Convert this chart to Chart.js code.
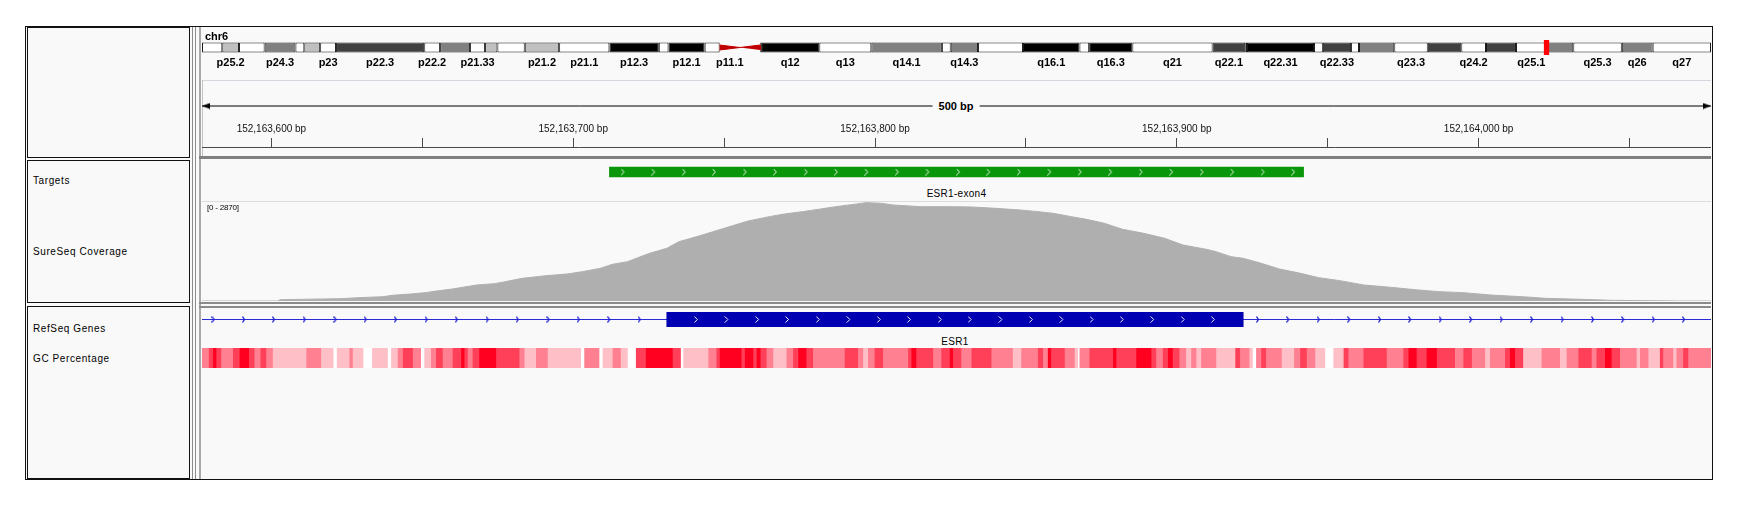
<!DOCTYPE html>
<html>
<head>
<meta charset="utf-8">
<title>chr6:152,163,577-152,164,077</title>
<script src="https://cdn.jsdelivr.net/npm/chart.js@4.4.1/dist/chart.umd.min.js"></script>
<style>
  html, body { margin: 0; padding: 0; background: #fff; }
  body { position: relative; width: 1744px; height: 507px; overflow: hidden;
         font-family: "Liberation Sans", Arial, sans-serif; color: #000; }
  .abs { position: absolute; }
  .frame { left: 25px; top: 26px; width: 1688px; height: 454px; box-sizing: border-box;
           border: 1px solid #111; background: #f9f9f9; }
  .namebox { left: 27px; width: 163px; box-sizing: border-box; border: 1px solid #111; background: #f9f9f9; }
  .trackname { left: 33px; font-size: 10px; line-height: 12px; letter-spacing: 0.6px; white-space: nowrap; }
  .feat { font-size: 10px; line-height: 12px; letter-spacing: 0.3px; transform: translateX(-50%); white-space: nowrap; }
  canvas { position: absolute; left: 202px; }
</style>
</head>
<body>

<div class="abs frame"></div>
<div class="abs namebox" style="top:27px;height:131px"></div>
<div class="abs namebox" style="top:160px;height:143px"></div>
<div class="abs namebox" style="top:306px;height:173px"></div>

<!-- split pane divider -->
<div class="abs" style="left:192px;top:27px;width:1px;height:452px;background:#8c8c8c"></div>
<div class="abs" style="left:195px;top:27px;width:1px;height:452px;background:#8c8c8c"></div>
<div class="abs" style="left:199px;top:27px;width:2px;height:452px;background:#a9a9a9"></div>

<!-- data panel separators -->
<div class="abs" style="left:202px;top:80px;width:1509px;height:1px;background:#d6d6de"></div>
<div class="abs" style="left:202px;top:80px;width:1px;height:77px;background:#c4c4c4"></div>
<div class="abs" style="left:199px;top:156px;width:1512px;height:3px;background:#808080"></div>
<div class="abs" style="left:202px;top:201px;width:1509px;height:1px;background:#dcdcdc"></div>
<div class="abs" style="left:199px;top:302px;width:1512px;height:2px;background:#8a8a8a"></div>
<div class="abs" style="left:199px;top:306px;width:1512px;height:2px;background:#8a8a8a"></div>

<canvas id="ideo" width="1509" height="35" style="top:35px"></canvas>
<canvas id="span" width="1509" height="20" style="top:96px"></canvas>
<canvas id="ruler" width="1509" height="60" style="top:120px"></canvas>
<canvas id="targets" width="1509" height="20" style="top:162px"></canvas>
<canvas id="coverage" width="1509" height="100" style="top:201px"></canvas>
<canvas id="genes" width="1509" height="15" style="top:312px"></canvas>
<canvas id="gc" width="1509" height="20" style="top:348px"></canvas>

<div class="abs" id="chrLabel" style="left:205px;top:30px;font-weight:bold;font-size:11px;line-height:12px"></div>
<div class="abs" id="spanLabel" style="left:956px;top:100px;font-weight:bold;font-size:11px;line-height:12px;
     transform:translateX(-50%);background:#f9f9f9;padding:0 6px;white-space:nowrap"></div>

<div class="abs trackname" style="top:175px">Targets</div>
<div class="abs trackname" style="top:246px">SureSeq Coverage</div>
<div class="abs trackname" style="top:323px">RefSeq Genes</div>
<div class="abs trackname" style="top:353px">GC Percentage</div>

<div class="abs" id="covRange" style="left:207px;top:203px;font-size:8px;line-height:10px;letter-spacing:-0.2px"></div>
<div class="abs feat" id="targetLabel" style="top:188px"></div>
<div class="abs feat" id="geneLabel" style="top:336px"></div>

<script>
/* =========================
   DATA
========================= */

const chrName = "chr6";
const chrLenMb = 171.115;
const viewStart = 152163577;
const viewEnd = 152164077;

// cytobands (Mb)
const bandNames = ["p25.3","p25.2","p25.1","p24.3","p24.2","p24.1","p23","p22.3","p22.2","p22.1",
  "p21.33","p21.32","p21.31","p21.2","p21.1","p12.3","p12.2","p12.1","p11.2","p11.1",
  "q11.1","q11.2","q12","q13","q14.1","q14.2","q14.3","q15","q16.1","q16.2",
  "q16.3","q21","q22.1","q22.2","q22.31","q22.32","q22.33","q23.1","q23.2","q23.3",
  "q24.1","q24.2","q24.3","q25.1","q25.2","q25.3","q26","q27"];
const bandStart = [0, 2.3, 4.2, 7.1, 10.6, 11.6, 13.4, 15.2, 25.2, 27.0,
  30.4, 32.1, 33.5, 36.6, 40.5, 46.2, 51.8, 52.9, 57.0, 58.7,
  61.0, 63.3, 63.4, 70.0, 75.9, 83.9, 84.9, 88.0, 93.1, 99.5,
  100.6, 105.5, 114.6, 118.3, 118.5, 126.1, 127.1, 130.3, 131.2, 135.2,
  139.0, 142.8, 145.6, 149.0, 152.5, 155.5, 161.0, 164.5];
const bandEnd = [2.3, 4.2, 7.1, 10.6, 11.6, 13.4, 15.2, 25.2, 27.0, 30.4,
  32.1, 33.5, 36.6, 40.5, 46.2, 51.8, 52.9, 57.0, 58.7, 61.0,
  63.3, 63.4, 70.0, 75.9, 83.9, 84.9, 88.0, 93.1, 99.5, 100.6,
  105.5, 114.6, 118.3, 118.5, 126.1, 127.1, 130.3, 131.2, 135.2, 139.0,
  142.8, 145.6, 149.0, 152.5, 155.5, 161.0, 164.5, 171.115];
const bandStain = ["gneg","gpos25","gneg","gpos50","gneg","gpos25","gneg","gpos75","gneg","gpos50",
  "gneg","gpos25","gneg","gpos25","gneg","gpos100","gneg","gpos100","gneg","acen",
  "acen","gneg","gpos100","gneg","gpos50","gneg","gpos50","gneg","gpos100","gneg",
  "gpos100","gneg","gpos75","gneg","gpos100","gneg","gpos75","gneg","gpos50","gneg",
  "gpos75","gneg","gpos75","gneg","gpos50","gneg","gpos50","gneg"];
const bandLabels = ["p25.2","p24.3","p23","p22.3","p22.2","p21.33","p21.2","p21.1","p12.3","p12.1",
  "p11.1","q12","q13","q14.1","q14.3","q16.1","q16.3","q21","q22.1","q22.31",
  "q22.33","q23.3","q24.2","q25.1","q25.3","q26","q27"];

// ruler
const rulerTicks = [152163600, 152163650, 152163700, 152163750, 152163800,
  152163850, 152163900, 152163950, 152164000, 152164050];
const rulerTickLabels = ["152,163,600 bp", "", "152,163,700 bp", "", "152,163,800 bp",
  "", "152,163,900 bp", "", "152,164,000 bp", ""];

// targets
const targetNames = ["ESR1-exon4"];
const targetStart = [152163712];
const targetEnd = [152163942];
const targetArrowOffset = [139.5, 149.7, 159.8, 169.8, 180, 190, 200.2, 210.2, 220.3, 230.4,
  240.5, 250.7, 260.7, 270.8, 280.9, 291, 301.1, 311.2, 321.3, 331.4, 341.5, 351.6, 361.7];

// coverage (offset from viewStart in bp, depth)
const covMax = 2870;
const covOffset = [0, 25, 26, 46, 52, 60, 63, 69, 74, 77,
  83, 91, 97, 100, 106, 114, 121, 126, 132, 136,
  141, 148, 154, 158, 162, 166, 173, 181, 188, 193,
  199, 205, 210, 217, 220, 225, 229, 238, 247, 255,
  263, 271, 277, 282, 288, 293, 299, 305, 312, 319,
  325, 333, 336, 341, 345, 351, 357, 364, 370, 377,
  385, 394, 403, 410, 418, 427, 439, 445, 457, 467,
  489, 500];
const covDepth = [0, 0, 38, 67, 96, 124, 163, 200, 240, 277,
  345, 459, 498, 545, 650, 727, 775, 842, 938, 1053,
  1130, 1360, 1512, 1703, 1799, 1900, 2086, 2297, 2421, 2498,
  2565, 2641, 2708, 2785, 2823, 2804, 2756, 2708, 2708, 2699,
  2660, 2613, 2565, 2517, 2421, 2345, 2230, 2058, 1943, 1799,
  1608, 1480, 1416, 1273, 1225, 1081, 919, 794, 670, 584,
  459, 392, 316, 268, 239, 172, 115, 77, 48, 19,
  0, 0];

// RefSeq gene
const geneName = "ESR1";
const geneTx = [151977826, 152450754];
const exonStart = [152163731];
const exonEnd = [152163922];
const intronArrowOffset = [3.8, 13.9, 23.8, 34, 44.2, 54.2, 64.2, 74.4, 84.4, 94.6,
  104.6, 114.8, 124.8, 134.9, 145,
  349.9, 359.9, 370, 380.1, 390.3, 400.3, 410.4, 420.5, 430.6, 440.7,
  450.8, 460.9, 470.9, 481, 491];
const exonArrowOffset = [163.8, 173.9, 184.1, 194, 204.2, 214.3, 224.4, 234.4, 244.6, 254.5,
  264.7, 274.8, 284.9, 294.9, 304.9, 315, 325.1, 335.1];

// GC percentage segments (start offset in bp, GC %)
const gcOffset = [0, 2.4, 3.8, 4.9, 6.5, 10.4, 12.6, 15.7, 17.5, 19.5,
  21.4, 23.6, 34.7, 39.6, 43.7, 44.8, 49, 50.1, 53.6, 56.5,
  61.7, 62.8, 65, 66.7, 70, 72.7, 73.8, 76, 77.7, 79.9,
  83.2, 86, 87.1, 88.2, 89.8, 92, 97.6, 105.3, 107, 110.8,
  114.7, 125.7, 126.8, 131.8, 132.9, 136.2, 138.9, 141.2, 143.9, 147.2,
  156.1, 158.8, 159.6,
  167.9, 170.6, 171.7, 178.9, 180, 182.8, 183.9, 185.2, 187.2, 189.4,
  193.8, 196, 197.7, 200.4, 202.6, 213.1, 217.5, 219.2, 220.8, 223,
  225.8, 234.1, 235.2, 236.8, 242.4, 245.1, 247.9, 249, 251.7, 255.1,
  261.7, 268.8, 271.6, 277.1, 278.8, 280.4, 281.5, 286, 289.3, 290.4,
  290.9, 294.2, 302, 303.1, 309.7, 314.7, 316.3, 318.5, 320.2, 321.8,
  324, 326.2, 327.9, 329.6, 331.2,
  336.2, 342.5, 344.1, 347.2, 348.3, 349.4, 351.1, 352.7, 357.9, 362,
  364, 366.2, 369, 372.3, 375, 378.4, 380, 385, 392.7, 398.2,
  399.9, 402.6, 405.9, 409.3, 415.3, 418.1, 420.9, 425.3, 426.9, 431.9,
  433.5, 435.2, 437.9, 444, 450.1, 452.3, 456.2, 460.6, 462.2, 465,
  467.2, 470, 475.5, 476.6, 479.4, 483.2, 484.3, 487.6, 488.7, 490.9,
  492.6];
const gcPct = [54, 66, 78, 66, 54, 66, 78, 66, 54, 66,
  54, 42, 54, 42, 30, 42, 54, 42, 30, 42,
  30, 42, 54, 66, 54, 30, 42, 54, 66, 54,
  66, 78, 66, 54, 66, 78, 66, 54, 42, 54,
  42, 30, 54, 30, 42, 54, 42, 30, 66, 78,
  66, 30, 42,
  54, 66, 78, 66, 78, 66, 78, 66, 54, 42,
  54, 66, 78, 66, 54, 66, 54, 42, 54, 66,
  54, 66, 78, 66, 54, 66, 78, 66, 54, 66,
  54, 42, 54, 66, 54, 78, 66, 54, 42, 30,
  54, 66, 78, 66, 78, 66, 54, 66, 78, 66,
  54, 42, 54, 42, 54,
  42, 66, 54, 42, 30, 54, 66, 54, 42, 54,
  66, 54, 42, 30, 42, 66, 54, 66, 54, 66,
  78, 66, 78, 66, 54, 66, 54, 42, 54, 66,
  78, 66, 42, 54, 42, 54, 66, 54, 66, 78,
  66, 54, 42, 54, 42, 66, 54, 42, 54, 66,
  54];


/* =========================
   STYLE HELPERS
========================= */

Chart.defaults.font.family = "'Liberation Sans', Arial, sans-serif";

const stainColor = {
  gneg: "#ffffff", gpos25: "#c0c0c0", gpos50: "#808080",
  gpos75: "#404040", gpos100: "#000000", acen: "#c00000"
};

const markerWidthMb = 0.6;
const ideoBarPx = 10;

function gcColor(p) {
  const a = Math.max(0, Math.min(1, (p - 30) / 48));
  return `rgb(255,${Math.round(255 * (1 - a))},${Math.round(255 - 223 * a)})`;
}

function chevron(color, w, h, lw) {
  const c = document.createElement("canvas");
  c.width = w; c.height = h;
  const g = c.getContext("2d");
  g.strokeStyle = color;
  g.lineWidth = lw;
  g.beginPath();
  g.moveTo(0.5, 0.5);
  g.lineTo(w - 1.5, h / 2);
  g.lineTo(0.5, h - 0.5);
  g.stroke();
  return c;
}

// arrowhead with its tip at the image centre
function arrowHead(dir) {
  const c = document.createElement("canvas");
  c.width = 18; c.height = 7;
  const g = c.getContext("2d");
  g.fillStyle = "#000";
  g.beginPath();
  g.moveTo(9, 3.5);
  g.lineTo(9 + dir * 8, 0.5);
  g.lineTo(9 + dir * 8, 6.5);
  g.closePath();
  g.fill();
  return c;
}

const whiteChevron = chevron("rgba(255,255,255,0.95)", 5, 7, 1);
const blueChevron = chevron("#1e1ed8", 4, 7, 1.3);

const at = off => viewStart + off;

const baseOptions = () => ({
  responsive: false,
  animation: false,
  events: [],
  layout: { padding: 0, autoPadding: false },
  plugins: { legend: { display: false }, tooltip: { enabled: false } }
});

const viewX = () => ({
  type: "linear", min: viewStart, max: viewEnd, offset: false, display: false
});

// one-row track: y runs 0..1, row centred at 0.5
const rowY = () => ({ type: "linear", min: 0, max: 1, display: false });


/* =========================
   IDEOGRAM
========================= */

const solidBands = bandNames.map((n, i) => i).filter(i => bandStain[i] !== "acen");
const acenBands = bandNames.map((n, i) => i).filter(i => bandStain[i] === "acen");

const ideoOpts = baseOptions();
ideoOpts.scales = {
  x: {
    type: "linear", min: 0, max: chrLenMb, position: "bottom", offset: false,
    grid: { display: false, drawTicks: false },
    border: { display: false },
    afterBuildTicks: scale => {
      scale.ticks = bandLabels.map(name => {
        const i = bandNames.indexOf(name);
        return { value: (bandStart[i] + bandEnd[i]) / 2 };
      });
    },
    ticks: {
      autoSkip: false, maxRotation: 0, minRotation: 0, padding: 0.9, color: "#000",
      font: { size: 11, weight: "bold" },
      callback: (v, i) => bandLabels[i]
    }
  },
  // chart area is two bar heights tall; the chromosome sits in the lower half (0..1)
  y: { type: "linear", min: 0, max: 2, display: false }
};

new Chart(document.getElementById("ideo"), {
  type: "line",
  data: {
    datasets: [
      {
        type: "bar", indexAxis: "y", grouped: false, order: 3,
        data: solidBands.map(i => ({ x: [bandStart[i], bandEnd[i]], y: 0.5 })),
        backgroundColor: solidBands.map(i => stainColor[bandStain[i]]),
        borderColor: "#1a1a1a", borderWidth: 1, borderSkipped: false,
        barThickness: ideoBarPx, inflateAmount: 0
      },
      ...acenBands.map(i => ({
        type: "line", order: 2,
        data: bandNames[i].startsWith("p")
          ? [{ x: bandStart[i], y: 1 }, { x: bandEnd[i], y: 0.5 }, { x: bandStart[i], y: 0 }]
          : [{ x: bandStart[i], y: 0.5 }, { x: bandEnd[i], y: 1 }, { x: bandEnd[i], y: 0 }],
        fill: "shape", backgroundColor: stainColor.acen, borderColor: stainColor.acen,
        borderWidth: 1, pointRadius: 0
      })),
      {
        type: "bar", indexAxis: "y", grouped: false, order: 1,
        data: [{ x: [viewStart / 1e6, viewStart / 1e6 + markerWidthMb], y: 0.5 }],
        backgroundColor: "#ff0000", barThickness: 15, clip: false, inflateAmount: 0
      }
    ]
  },
  options: ideoOpts
});

document.getElementById("chrLabel").textContent = chrName;


/* =========================
   RULER
========================= */

const spanOpts = baseOptions();
spanOpts.scales = { x: viewX(), y: { min: -1, max: 1, display: false } };

new Chart(document.getElementById("span"), {
  type: "line",
  data: {
    datasets: [{
      data: [{ x: viewStart, y: 0 }, { x: viewEnd, y: 0 }],
      borderColor: "#000", borderWidth: 1,
      pointStyle: [arrowHead(1), arrowHead(-1)], pointRadius: 4
    }]
  },
  options: spanOpts
});

document.getElementById("spanLabel").textContent = (viewEnd - viewStart) + " bp";

const rulerOpts = baseOptions();
rulerOpts.scales = {
  x: {
    type: "linear", position: "top", min: viewStart, max: viewEnd, offset: false,
    afterBuildTicks: scale => { scale.ticks = rulerTicks.map(v => ({ value: v })); },
    grid: { drawOnChartArea: false, drawTicks: true, tickLength: 9, color: "#4a4a4a", lineWidth: 1 },
    border: { display: true, color: "#4a4a4a", width: 1 },
    ticks: {
      autoSkip: false, maxRotation: 0, minRotation: 0, padding: 3, color: "#111",
      font: { size: 10 },
      callback: (v, i) => rulerTickLabels[i]
    }
  },
  y: { min: 0, max: 1, display: false }
};

new Chart(document.getElementById("ruler"), {
  type: "line",
  data: { datasets: [] },
  options: rulerOpts
});


/* =========================
   TARGETS
========================= */

const tgtOpts = baseOptions();
tgtOpts.scales = { x: viewX(), y: rowY() };

const tgtChart = new Chart(document.getElementById("targets"), {
  type: "line",
  data: {
    datasets: [
      {
        type: "bar", indexAxis: "y", grouped: false, order: 2,
        data: targetStart.map((s, i) => ({ x: [s, targetEnd[i]], y: 0.5 })),
        backgroundColor: "#0a960a", borderWidth: 0, barThickness: 10
      },
      {
        type: "line", showLine: false, order: 1,
        data: targetArrowOffset.map(o => ({ x: at(o), y: 0.5 })),
        pointStyle: whiteChevron, pointRadius: 3
      }
    ]
  },
  options: tgtOpts
});

const tgtLabel = document.getElementById("targetLabel");
tgtLabel.textContent = targetNames[0];
tgtLabel.style.left = (202 + tgtChart.scales.x.getPixelForValue((targetStart[0] + targetEnd[0]) / 2)) + "px";


/* =========================
   COVERAGE
========================= */

const covOpts = baseOptions();
covOpts.scales = { x: viewX(), y: { min: 0, max: covMax, display: false } };

new Chart(document.getElementById("coverage"), {
  type: "line",
  data: {
    datasets: [{
      data: covOffset.map((o, i) => ({ x: at(o), y: covDepth[i] })),
      fill: "origin", backgroundColor: "#afafaf", borderColor: "#afafaf",
      borderWidth: 1, pointRadius: 0, tension: 0
    }]
  },
  options: covOpts
});

document.getElementById("covRange").textContent = "[0 - " + covMax + "]";


/* =========================
   REFSEQ GENES
========================= */

const geneOpts = baseOptions();
geneOpts.scales = { x: viewX(), y: rowY() };

const geneChart = new Chart(document.getElementById("genes"), {
  type: "line",
  data: {
    datasets: [
      {
        type: "line", order: 3,
        data: [{ x: geneTx[0], y: 0.5 }, { x: geneTx[1], y: 0.5 }],
        borderColor: "#2a2ad8", borderWidth: 1, pointRadius: 0
      },
      {
        type: "bar", indexAxis: "y", grouped: false, order: 2,
        data: exonStart.map((s, i) => ({ x: [s, exonEnd[i]], y: 0.5 })),
        backgroundColor: "#0000b2", borderWidth: 0, barThickness: 15
      },
      {
        type: "line", showLine: false, order: 1,
        data: intronArrowOffset.map(o => ({ x: at(o), y: 0.5 })),
        pointStyle: blueChevron, pointRadius: 3
      },
      {
        type: "line", showLine: false, order: 0,
        data: exonArrowOffset.map(o => ({ x: at(o), y: 0.5 })),
        pointStyle: whiteChevron, pointRadius: 3
      }
    ]
  },
  options: geneOpts
});

const geneLabel = document.getElementById("geneLabel");
geneLabel.textContent = geneName;
geneLabel.style.left = (202 + geneChart.scales.x.getPixelForValue((exonStart[0] + exonEnd[0]) / 2)) + "px";


/* =========================
   GC PERCENTAGE
========================= */

const gcEndOffset = gcOffset.slice(1).concat([viewEnd - viewStart]);

const gcOpts = baseOptions();
gcOpts.scales = { x: viewX(), y: rowY() };

new Chart(document.getElementById("gc"), {
  type: "line",
  data: {
    datasets: [{
      type: "bar", indexAxis: "y", grouped: false,
      data: gcOffset.map((o, i) => ({ x: [at(o), at(gcEndOffset[i])], y: 0.5 })),
      backgroundColor: gcPct.map(gcColor), borderWidth: 0,
      barThickness: 20, inflateAmount: 0.4
    }]
  },
  options: gcOpts
});
</script>
</body>
</html>
